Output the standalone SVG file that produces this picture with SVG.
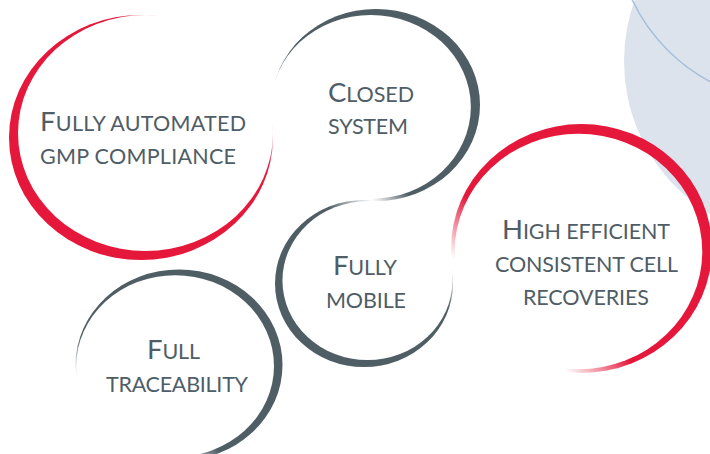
<svg xmlns="http://www.w3.org/2000/svg" width="710" height="454" viewBox="0 0 710 454">
  <style>
    .label { font-family: Lato, "Open Sans", "Liberation Sans", sans-serif; fill: #4f5d66; font-size: 21.5px; }
    .cap { font-size: 27.5px; }
    .red { fill: #e5173b; }
    .grey { fill: #4f5d65; }
  </style>
  <defs>
    <!-- each ring: outer ellipse minus an offset inner ellipse gives a tapering crescent;
         the gradient softens the open end of the ring -->
    <linearGradient id="fade1" gradientUnits="userSpaceOnUse" x1="190.5" y1="88" x2="218.8" y2="59.7">
      <stop offset="0" stop-color="#fff"/><stop offset="1" stop-color="#000"/>
    </linearGradient>
    <linearGradient id="fade2" gradientUnits="userSpaceOnUse" x1="347.7" y1="133.3" x2="326.5" y2="154.5">
      <stop offset="0" stop-color="#fff"/><stop offset="1" stop-color="#000"/>
    </linearGradient>
    <linearGradient id="fade3" gradientUnits="userSpaceOnUse" x1="549.7" y1="280.3" x2="512.2" y2="317.8">
      <stop offset="0" stop-color="#fff"/><stop offset="1" stop-color="#000"/>
    </linearGradient>
    <linearGradient id="fade4" gradientUnits="userSpaceOnUse" x1="386.5" y1="256.7" x2="409" y2="229.9">
      <stop offset="0" stop-color="#fff"/><stop offset="1" stop-color="#000"/>
    </linearGradient>
    <linearGradient id="fade5" gradientUnits="userSpaceOnUse" x1="153.3" y1="395.6" x2="130.8" y2="422.5">
      <stop offset="0" stop-color="#fff"/><stop offset="1" stop-color="#000"/>
    </linearGradient>

    <mask id="ring1" maskUnits="userSpaceOnUse" x="0" y="0" width="710" height="454">
      <rect width="710" height="454" fill="url(#fade1)"/>
      <ellipse cx="145.5" cy="133" rx="127.5" ry="118" fill="#000"/>
    </mask>
    <mask id="ring2" maskUnits="userSpaceOnUse" x="0" y="0" width="710" height="454">
      <rect width="710" height="454" fill="url(#fade2)"/>
      <ellipse cx="370.83" cy="106.88" rx="100" ry="92" fill="#000"/>
    </mask>
    <mask id="ring3" maskUnits="userSpaceOnUse" x="0" y="0" width="710" height="454">
      <rect width="710" height="454" fill="url(#fade3)"/>
      <ellipse cx="578.46" cy="251.54" rx="123.8" ry="117.8" fill="#000"/>
    </mask>
    <mask id="ring4" maskUnits="userSpaceOnUse" x="0" y="0" width="710" height="454">
      <rect width="710" height="454" fill="url(#fade4)"/>
      <ellipse cx="367.45" cy="280.6" rx="85" ry="79.5" fill="#000"/>
    </mask>
    <mask id="ring5" maskUnits="userSpaceOnUse" x="0" y="0" width="710" height="454">
      <rect width="710" height="454" fill="url(#fade5)"/>
      <ellipse cx="175.14" cy="366.04" rx="98.85" ry="90.85" fill="#000"/>
    </mask>
  </defs>

  <!-- soft background discs at the top right -->
  <g id="backdrop">
    <circle cx="803" cy="61" r="179" fill="#dde3ec"/>
    <circle cx="795" cy="-77" r="180" fill="none" stroke="#a6c0dc" stroke-width="1.5"/>
  </g>

  <g id="node-automated">
    <ellipse class="red" cx="141" cy="137.5" rx="132" ry="122.5" mask="url(#ring1)"/>
    <text class="label" x="40" y="131" textLength="206" lengthAdjust="spacing"><tspan class="cap">F</tspan>ULLY AUTOMATED</text>
    <text class="label" x="40" y="164" textLength="196" lengthAdjust="spacing">GMP COMPLIANCE</text>
  </g>

  <g id="node-closed">
    <ellipse class="grey" cx="376" cy="105" rx="104" ry="96" mask="url(#ring2)"/>
    <text class="label" x="328" y="102" textLength="86" lengthAdjust="spacing"><tspan class="cap">C</tspan>LOSED</text>
    <text class="label" x="328" y="134" textLength="80" lengthAdjust="spacing">SYSTEM</text>
  </g>

  <g id="node-recoveries">
    <ellipse class="red" cx="581.5" cy="248.5" rx="130.5" ry="124.5" mask="url(#ring3)"/>
    <text class="label" x="502" y="239" textLength="168" lengthAdjust="spacing"><tspan class="cap">H</tspan>IGH EFFICIENT</text>
    <text class="label" x="495" y="272" textLength="183" lengthAdjust="spacing">CONSISTENT CELL</text>
    <text class="label" x="523" y="305" textLength="126" lengthAdjust="spacing">RECOVERIES</text>
  </g>

  <g id="node-mobile">
    <ellipse class="grey" cx="364" cy="283.5" rx="89" ry="83.5" mask="url(#ring4)"/>
    <text class="label" x="333" y="275" textLength="64" lengthAdjust="spacing"><tspan class="cap">F</tspan>ULLY</text>
    <text class="label" x="326" y="308" textLength="80" lengthAdjust="spacing">MOBILE</text>
  </g>

  <g id="node-traceability">
    <ellipse class="grey" cx="179" cy="365" rx="103.5" ry="95.5" mask="url(#ring5)"/>
    <text class="label" x="147" y="359" textLength="53" lengthAdjust="spacing"><tspan class="cap">F</tspan>ULL</text>
    <text class="label" x="106" y="392" textLength="142" lengthAdjust="spacing">TRACEABILITY</text>
  </g>
</svg>
